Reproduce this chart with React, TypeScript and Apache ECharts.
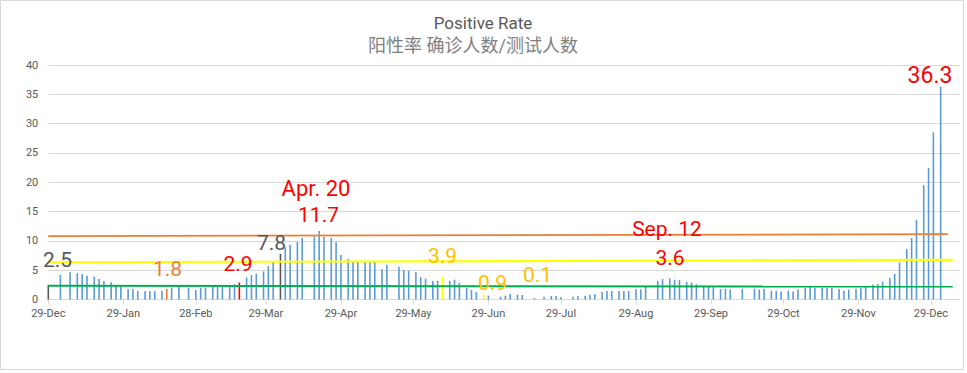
import React, { useEffect, useRef } from "react";
import * as echarts from "echarts";

// Positive rate (%) by observation day, [day of month, value]
const dec2021: [number, number][] = [[29, 2.5]];
const jan2022: [number, number][] = [
  [3, 4.18], [7, 4.64], [10, 4.47], [12, 4.29], [14, 4.07], [17, 3.9], [19, 3.5],
  [21, 3.16], [24, 2.93], [26, 2.47], [28, 2.36], [31, 1.79],
];
const feb2022: [number, number][] = [
  [2, 1.79], [4, 1.45], [7, 1.45], [9, 1.45], [11, 1.45], [14, 1.45], [16, 1.8],
  [18, 2.02], [21, 2.36], [25, 2.02], [28, 1.62],
];
const mar2022: [number, number][] = [
  [2, 2.02], [4, 2.02], [7, 2.13], [9, 2.13], [11, 2.19], [14, 2.47], [16, 2.59],
  [18, 2.9], [21, 3.73], [23, 4.18], [25, 4.41], [28, 4.8], [30, 5.72],
];
const apr2022: [number, number][] = [
  [1, 6.4], [4, 7.8], [6, 8.9], [8, 9.36], [11, 9.81], [13, 10.5], [18, 10.78],
  [20, 11.7], [22, 10.67], [25, 10.5], [27, 9.81], [29, 7.59],
];
const may2022: [number, number][] = [
  [2, 6.91], [4, 6.51], [6, 6.51], [9, 6.51], [11, 6.51], [13, 6.51], [16, 5.15],
  [18, 5.94], [23, 5.6], [25, 5.03], [27, 4.92], [30, 4.69],
];
const jun2022: [number, number][] = [
  [1, 3.84], [3, 3.56], [6, 3.16], [8, 3.16], [10, 3.9], [13, 3.21], [15, 3.38],
  [17, 2.82], [20, 1.96], [22, 1.62], [24, 1.28], [27, 0.9], [29, 0.65],
];
const jul2022: [number, number][] = [
  [4, 0.48], [6, 0.65], [8, 0.94], [11, 0.82], [13, 0.77], [15, 0.1], [18, 0.26],
  [22, 0.48], [25, 0.6], [27, 0.6], [29, 0.37],
];
const aug2022: [number, number][] = [
  [3, 0.48], [5, 0.6], [8, 0.65], [10, 0.82], [12, 0.94], [15, 1.28], [17, 1.45],
  [19, 1.45], [22, 1.45], [24, 1.45], [26, 1.45], [29, 1.73], [31, 1.73],
];
const sep2022: [number, number][] = [
  [2, 2.19], [7, 3.16], [9, 3.5], [12, 3.6], [14, 3.38], [16, 3.33], [19, 2.99],
  [21, 2.93], [23, 2.59], [26, 2.3], [28, 2.3], [30, 2.08],
];
const oct2022: [number, number][] = [
  [3, 1.8], [5, 1.8], [7, 1.7], [12, 1.85], [17, 1.85], [19, 1.7], [21, 1.85],
  [24, 1.5], [26, 1.5], [28, 1.35], [31, 1.5],
];
const nov2022: [number, number][] = [
  [2, 1.35], [4, 1.7], [7, 1.95], [9, 2.2], [11, 1.95], [14, 1.95], [16, 1.95],
  [18, 1.95], [21, 1.8], [23, 1.5], [25, 1.7], [28, 1.85], [30, 2.0],
];
const dec2022: [number, number][] = [
  [2, 2.15], [5, 2.5], [7, 2.65], [9, 3.05], [12, 3.65], [14, 4.35], [16, 6.3],
  [19, 8.6], [21, 10.5], [23, 13.55], [26, 19.5], [28, 22.45], [30, 28.5],
];
const jan2023: [number, number][] = [[2, 36.3]];

const months: { y: number; m: number; pts: [number, number][] }[] = [
  { y: 2021, m: 12, pts: dec2021 }, { y: 2022, m: 1, pts: jan2022 },
  { y: 2022, m: 2, pts: feb2022 }, { y: 2022, m: 3, pts: mar2022 },
  { y: 2022, m: 4, pts: apr2022 }, { y: 2022, m: 5, pts: may2022 },
  { y: 2022, m: 6, pts: jun2022 }, { y: 2022, m: 7, pts: jul2022 },
  { y: 2022, m: 8, pts: aug2022 }, { y: 2022, m: 9, pts: sep2022 },
  { y: 2022, m: 10, pts: oct2022 }, { y: 2022, m: 11, pts: nov2022 },
  { y: 2022, m: 12, pts: dec2022 }, { y: 2023, m: 1, pts: jan2023 },
];

// Highlighted observation days
const highlightDays: [string, string][] = [
  ["2021-12-29", "grey"], ["2022-02-16", "orange"], ["2022-03-18", "red"],
  ["2022-04-04", "grey"], ["2022-06-10", "yellow"], ["2022-06-27", "yellow"],
  ["2022-07-15", "yellow"],
];

// Reference lines: [start value, end value, end date]
const refOrange: [number, number, string] = [10.8, 11.15, "2023-01-05"];
const refYellow: [number, number, string] = [6.35, 6.75, "2023-01-07"];
const refGreen: [number, number, string] = [2.36, 2.2, "2023-01-07"];

const yTicks = [0, 5, 10, 15, 20, 25, 30, 35, 40];
const MONTHS = ["Jan", "Feb", "Mar", "Apr", "May", "Jun", "Jul", "Aug", "Sep", "Oct", "Nov", "Dec"];

const palette: Record<string, string> = {
  blue: "#5b9bd5",
  grey: "#595959",
  orange: "#ed7d31",
  red: "#ff0000",
  yellow: "#ffff00",
};

const pad = (n: number) => (n < 10 ? "0" + n : "" + n);
const key = (y: number, m: number, d: number) => `${y}-${pad(m)}-${pad(d)}`;

function buildCategories(): string[] {
  const out: string[] = [];
  const start = Date.UTC(2021, 11, 29);
  for (let i = 0; i <= 377; i++) {
    const dt = new Date(start + i * 86400000);
    out.push(key(dt.getUTCFullYear(), dt.getUTCMonth() + 1, dt.getUTCDate()));
  }
  return out;
}

const FONT = "Roboto, 'Noto Sans CJK SC', sans-serif";

export default function App() {
  const ref = useRef<HTMLDivElement>(null);
  useEffect(() => {
    if (!ref.current) return;
    const chart = echarts.init(ref.current, undefined, { renderer: "svg" });
    const categories = buildCategories();
    const valueMap: Record<string, number> = {};
    months.forEach(({ y, m, pts }) => pts.forEach(([d, v]) => (valueMap[key(y, m, d)] = v)));
    const hl: Record<string, string> = {};
    highlightDays.forEach(([k, c]) => (hl[k] = c));
    const barData = categories.map((c) =>
      valueMap[c] === undefined
        ? null
        : { value: valueMap[c], itemStyle: { color: palette[hl[c] || "blue"] } }
    );
    const isLabelDay = (v: string) => {
      const m = +v.slice(5, 7);
      const d = +v.slice(8, 10);
      return d === 29 || (m === 2 && d === 28);
    };
    const fmt = (v: string) => `${+v.slice(8, 10)}-${MONTHS[+v.slice(5, 7) - 1]}`;
    const refLine = (r: [number, number, string], color: string, width: number) => [
      { coord: [categories[0], r[0]], lineStyle: { color, width, type: "solid" } },
      { coord: [r[2], r[1]] },
    ];
    const txt = (text: string, x: number, y: number, color: string, size: number) => ({
      type: "text",
      x,
      y,
      z: 10,
      style: {
        text,
        fill: color,
        fontSize: size,
        fontFamily: FONT,
        textAlign: "center",
        textVerticalAlign: "middle",
        align: "center",
        verticalAlign: "middle",
      },
    });
    chart.setOption({
      animation: false,
      backgroundColor: "#ffffff",
      grid: { left: 48.3, right: 7, top: 65, bottom: 73.5, containLabel: false },
      xAxis: {
        type: "category",
        data: categories,
        boundaryGap: false,
        axisLine: { lineStyle: { color: "#d9d9d9", width: 1 } },
        axisTick: { show: true, length: 5, interval: (_i: number, v: string) => isLabelDay(v), lineStyle: { color: "#d9d9d9" } },
        axisLabel: {
          interval: (_i: number, v: string) => isLabelDay(v),
          formatter: fmt,
          color: "#595959",
          fontSize: 11,
          fontFamily: FONT,
          margin: 8,
        },
        splitLine: { show: false },
      },
      yAxis: {
        type: "value",
        min: yTicks[0],
        max: yTicks[yTicks.length - 1],
        interval: 5,
        axisLine: { show: false },
        axisTick: { show: false },
        axisLabel: { color: "#595959", fontSize: 11, fontFamily: FONT, margin: 10 },
        splitLine: { lineStyle: { color: "#d9d9d9", width: 1 } },
      },
      series: [
        {
          type: "bar",
          data: barData,
          barWidth: 1.6,
          clip: false,
          itemStyle: { color: palette.blue },
          markLine: {
            silent: true,
            symbol: ["none", "none"],
            label: { show: false },
            data: [
              refLine(refGreen, "#00b050", 2),
              refLine(refYellow, "#ffff00", 2.2),
              refLine(refOrange, "#ed7d31", 1.8),
            ],
          },
        },
      ],
      graphic: [
        {
          type: "rect",
          z: -10,
          shape: { x: 0.5, y: 0.5, width: 963, height: 369 },
          style: { fill: "none", stroke: "#d9d9d9", lineWidth: 1 },
        },
        txt("Positive Rate", 483, 22.5, "#595959", 17),
        txt("阳性率 确诊人数/测试人数", 473, 45.5, "#7f7f7f", 18),
        txt("2.5", 57.5, 260, "#595959", 21),
        txt("1.8", 167.5, 269, "#ed7d31", 21),
        txt("2.9", 238, 263.5, "#ff0000", 21),
        txt("7.8", 271.5, 242.5, "#595959", 21),
        txt("Apr. 20", 316, 188.5, "#ff0000", 22),
        txt("11.7", 318.5, 215, "#ff0000", 21),
        txt("3.9", 442.5, 255.5, "#ffc000", 21),
        txt("0.9", 492.5, 282.5, "#ffc000", 21),
        txt("0.1", 537.5, 274.5, "#ffc000", 21),
        txt("Sep. 12", 667, 228.5, "#ff0000", 21),
        txt("3.6", 670, 257.5, "#ff0000", 21),
        txt("36.3", 930, 75, "#ff0000", 23),
      ],
    });
    return () => chart.dispose();
  }, []);
  return (
    <div
      ref={ref}
      style={{ position: "fixed", left: 0, top: 0, width: 967, height: 373 }}
    />
  );
}
